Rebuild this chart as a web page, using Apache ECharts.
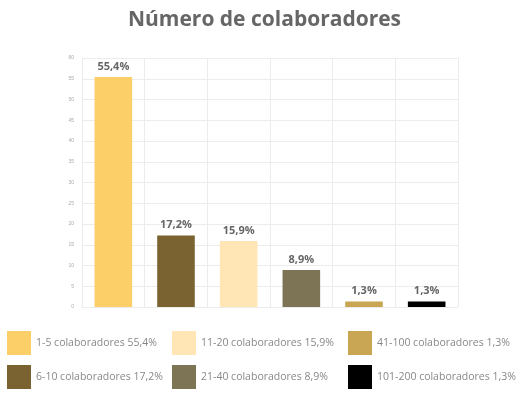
<!DOCTYPE html>
<html>
<head>
<meta charset="utf-8">
<script src="https://cdn.jsdelivr.net/npm/echarts@6/dist/echarts.min.js"></script>
<style>
  html, body { margin: 0; padding: 0; background: #fff; }
  #chart { width: 529px; height: 398px; }
</style>
</head>
<body>
<div id="chart"></div>
<script>
// Número de colaboradores
const categories = ['1-5', '6-10', '11-20', '21-40', '41-100', '101-200'];
const values = [55.4, 17.2, 15.9, 8.9, 1.3, 1.3];
const colors = ['#FDCF69', '#7B6231', '#FFE6B4', '#7D7456', '#C9A654', '#000000'];
const yTicks = [0, 5, 10, 15, 20, 25, 30, 35, 40, 45, 50, 55, 60];

const fmt = (v) => String(v).replace('.', ',') + '%';
const names = categories.map((c, i) => c + ' colaboradores ' + fmt(values[i]));

const chart = echarts.init(document.getElementById('chart'));

// uma série por categoria, para a legenda
const series = categories.map((c, i) => ({
  name: names[i],
  type: 'bar',
  stack: 'total',
  barWidth: '60%',
  itemStyle: { color: colors[i] },
  label: {
    show: true,
    position: 'top',
    distance: 5,
    color: '#666',
    fontWeight: 'bold',
    fontSize: 11,
    fontFamily: 'Open Sans',
    formatter: (p) => fmt(p.value),
  },
  data: categories.map((_, j) => (j === i ? values[i] : null)),
}));

const legendBase = {
  orient: 'vertical',
  top: 331,
  height: 64,
  padding: 0,
  itemWidth: 24,
  itemHeight: 24,
  itemGap: 10,
  icon: 'rect',
  textStyle: { color: '#888', fontSize: 10.5, fontFamily: 'Open Sans' },
  selectedMode: false,
};

const option = {
  animation: false,
  title: {
    text: 'Número de colaboradores',
    left: 'center',
    top: 5,
    textStyle: { color: '#666', fontSize: 21, fontWeight: 'bold', fontFamily: 'Open Sans' },
  },
  legend: [
    { ...legendBase, left: 7, data: [names[0], names[1]] },
    { ...legendBase, left: 172, data: [names[2], names[3]] },
    { ...legendBase, left: 348, data: [names[4], names[5]] },
  ],
  grid: { left: 82, right: 71, top: 58, bottom: 91 },
  xAxis: {
    type: 'category',
    data: categories,
    axisLine: { show: false },
    axisTick: { show: false },
    axisLabel: { show: false },
    splitLine: { show: true, lineStyle: { color: '#ececec' } },
  },
  yAxis: {
    type: 'value',
    min: yTicks[0],
    max: yTicks[yTicks.length - 1],
    interval: 5,
    axisLabel: { color: '#aaa', fontSize: 5, margin: 8 },
    splitLine: { lineStyle: { color: '#ececec' } },
  },
  series: series,
};

chart.setOption(option);
</script>
</body>
</html>
